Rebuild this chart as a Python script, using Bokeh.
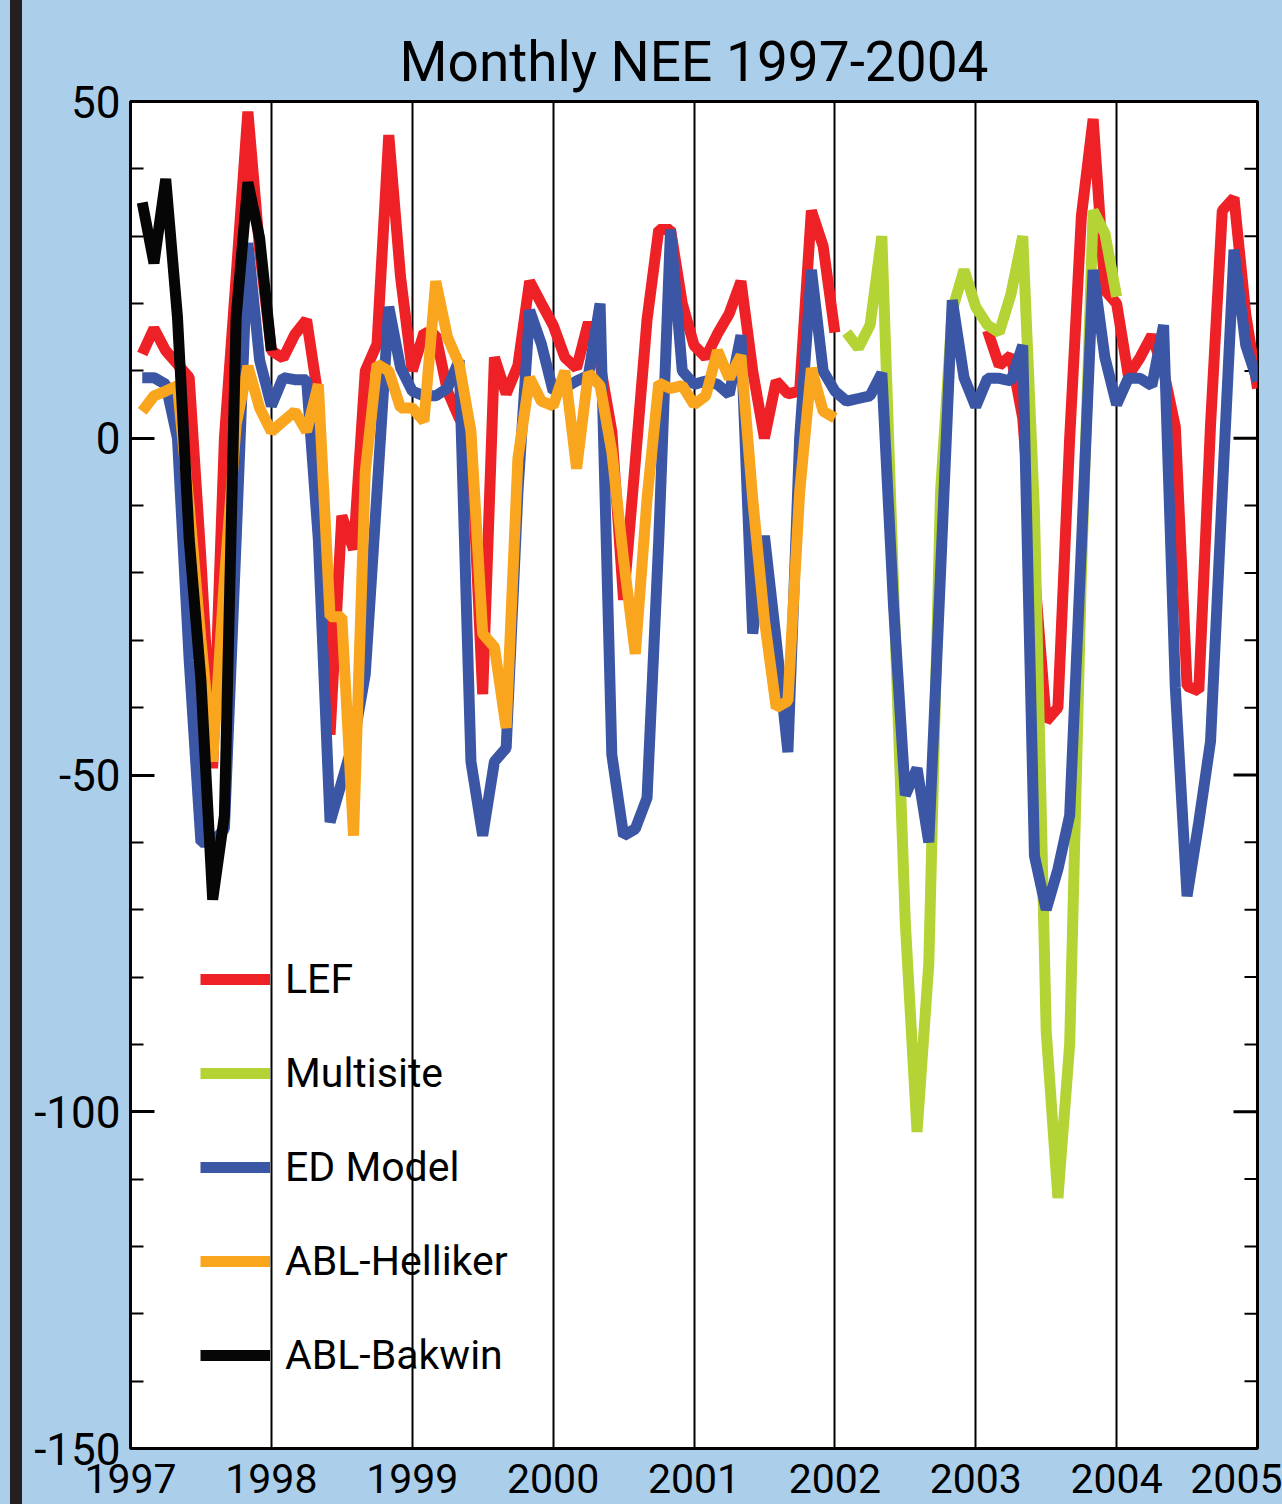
import numpy as np
from bokeh.plotting import figure
from bokeh.models import ColumnDataSource, FixedTicker, Legend, LegendItem, Range1d
from bokeh.embed import file_html
from bokeh.resources import INLINE

# ---------------- data (monthly NEE) ----------------
years = [1997, 1998, 1999, 2000, 2001, 2002, 2003, 2004]
months = list(range(1, 13))

lef_1997 = [12.5, 16.3, 13, 11, 9, -18, -49, 0, 24, 48.5, 28, 13]
lef_1998 = [11.9, 15.4, 17.6, 6, -44, -11.5, -16.5, 10, 14, 45, 24, 10]
lef_1999 = [15.7, 15.3, 7, 3, 0, -38, 12, 6.6, 10.8, 23.3, 20, 16.8]
lef_2000 = [12, 10.4, 17.2, 11, 1, -24, -3.5, 17.6, 31, 31, 20, 13.8]
lef_2001 = [12, 15.5, 18.5, 23.3, 10, 0, 8.5, 6.6, 7, 33.8, 28.5, 15.7]
lef_2002 = [None] * 12
lef_2003 = [16, 10.8, 12.3, 3, -20, -42, -40, 0, 33, 47.4, 22, 20]
lef_2004 = [9.3, 12, 15.3, 10, 1.7, -36.8, -37.5, 2, 33.8, 35.7, 18.4, 7.4]

ed_1997 = [9, 9, 8, 0, -33, -60, -60, -58, -15, 29, 11.6, 4.8]
ed_1998 = [9, 8.7, 8.7, -15, -57, -51, -45, -35, -8, 19.5, 10.5, 7]
ed_1999 = [6.3, 6.3, 7.4, 11.6, -48, -59, -48, -46, -8, 19, 14, 7]
ed_2000 = [7.5, 8.5, 9.3, 20, -47, -59, -58, -53.4, -15, 31, 10, 8]
ed_2001 = [8.5, 8, 6.5, 15.3, -29, -14.5, -30, -46.6, 0, 25, 10, 7]
ed_2002 = [5.5, 5.9, 6.3, 9.7, -25, -53, -49, -60, -20, 20.5, 9, 4.7]
ed_2003 = [8.9, 8.9, 8.5, 13.8, -62, -70, -64, -56, -16, 25, 12, 5]
ed_2004 = [8.9, 8.9, 7.8, 16.8, -37, -68, -57, -45, -8, 28, 13.8, 8.5]

multisite_years = [2002, 2003]
multisite_2002 = [15.7, 13.4, 16.8, 30, -22, -72, -103, -78, -8, 19, 25, 19.5]
multisite_2003 = [16.8, 15.7, 21.4, 30, -11, -88, -112.8, -90, -20, 33.8, 30.4, 21]

helliker_years = [1997, 1998, 1999, 2000, 2001]
helliker_1997 = [4, 6.3, 7, 7.8, -10, -30, -48, -21, 2, 10.7, 4.5, 1]
helliker_1998 = [2.5, 4, 1, 8, -26.5, -26.5, -59, -5, 11, 10, 4.5, 4.5]
helliker_1999 = [2.5, 23.3, 15, 11, 1, -29, -31, -43, -3, 9, 5.5, 4.8]
helliker_2000 = [10, -4.5, 9.7, 7.8, -2, -18, -32, -9, 8.2, 7.4, 7.8, 5]
helliker_2001 = [6.3, 13, 8.9, 12.3, -9, -27, -40, -39, -8, 10.4, 4, 3]

bakwin_years = [1997]
bakwin_1997 = [35, 26, 38.5, 18, -15, -36, -68.5, -56, 18, 38, 29.7, 13]

y_ticks = [-150, -100, -50, 0, 50]
y_minor_ticks = [-150, -140, -130, -120, -110, -100, -90, -80, -70, -60, -50, -40,
                 -30, -20, -10, 0, 10, 20, 30, 40, 50]
x_ticks = [1997, 1998, 1999, 2000, 2001, 2002, 2003, 2004, 2005]

series_names = ["LEF", "Multisite", "ED Model", "ABL-Helliker", "ABL-Bakwin"]
series_colors = ["#ee2126", "#b4d334", "#3b56a5", "#f9a51d", "#060606"]

# ---------------- helpers ----------------
def month_x(yrs):
    return [y + m / 12.0 for y in yrs for m in months]

def to_arr(*parts):
    out = []
    for part in parts:
        out.extend([np.nan if v is None else v for v in part])
    return np.array(out, dtype=float)

lef = to_arr(lef_1997, lef_1998, lef_1999, lef_2000, lef_2001, lef_2002, lef_2003, lef_2004)
ed = to_arr(ed_1997, ed_1998, ed_1999, ed_2000, ed_2001, ed_2002, ed_2003, ed_2004)
multisite = to_arr(multisite_2002, multisite_2003)
helliker = to_arr(helliker_1997, helliker_1998, helliker_1999, helliker_2000, helliker_2001)
bakwin = to_arr(bakwin_1997)

BG = "#abcfeb"
FONT = "Roboto"

W, H = 1282, 1504
BL, BR, BT, BB = 130, 25, 101, 56
FW, FH = W - BL - BR, H - BT - BB
X0, X1, Y0, Y1 = 1997, 2005, -150, 50

p = figure(width=W, height=H,
           x_range=Range1d(X0, X1), y_range=Range1d(Y0, Y1),
           output_backend="svg", toolbar_location=None,
           min_border_left=BL, min_border_right=BR, min_border_top=BT, min_border_bottom=BB,
           background_fill_color="white", border_fill_color=BG, border_fill_alpha=0)

p.title.text = "Monthly NEE 1997-2004"
p.title.align = "center"
p.title.text_font = FONT
p.title.text_font_size = "55px"
p.title.text_font_style = "normal"
p.title.text_color = "black"
p.title.standoff = 15

p.outline_line_color = "black"
p.outline_line_width = 3
p.outline_line_alpha = 1

# x axis
xa = p.xaxis[0]
xa.ticker = FixedTicker(ticks=x_ticks)
xa.axis_line_color = None
xa.major_tick_line_color = None
xa.minor_tick_line_color = None
xa.major_label_text_font = FONT
xa.major_label_text_font_size = "41px"
xa.major_label_text_color = "black"
xa.major_label_standoff = 9

# left y axis
ya = p.yaxis[0]
ya.ticker = FixedTicker(ticks=y_ticks, minor_ticks=y_minor_ticks)
ya.axis_line_color = None
ya.major_tick_in = 24
ya.major_tick_out = 0
ya.minor_tick_in = 13
ya.minor_tick_out = 0
ya.major_tick_line_width = 3
ya.minor_tick_line_width = 2
ya.major_tick_line_color = "black"
ya.minor_tick_line_color = "black"
ya.major_label_overrides = {t: str(t) for t in y_ticks}
ya.major_label_text_font = FONT
ya.major_label_text_font_size = "44px"
ya.major_label_text_color = "black"
ya.major_label_standoff = 10

# grid
p.xgrid.ticker = FixedTicker(ticks=x_ticks)
p.xgrid.grid_line_color = "black"
p.xgrid.grid_line_width = 2
p.ygrid.grid_line_color = None

# right-hand inward ticks (mirror of the left axis ticks)
px_x = (X1 - X0) / FW
minor_only = [t for t in y_minor_ticks if t not in y_ticks]
p.segment(x0=[X1 - 13 * px_x] * len(minor_only), x1=[X1] * len(minor_only),
          y0=minor_only, y1=minor_only, line_color="black", line_width=2)
p.segment(x0=[X1 - 24 * px_x] * len(y_ticks), x1=[X1] * len(y_ticks),
          y0=y_ticks, y1=y_ticks, line_color="black", line_width=3)

# ---------------- lines ----------------
LW = 11
src_lef = ColumnDataSource(dict(x=month_x(years), y=lef))
src_ms = ColumnDataSource(dict(x=month_x(multisite_years), y=multisite))
src_ed = ColumnDataSource(dict(x=month_x(years), y=ed))
src_hel = ColumnDataSource(dict(x=month_x(helliker_years), y=helliker))
src_bak = ColumnDataSource(dict(x=month_x(bakwin_years), y=bakwin))

r_lef = p.line("x", "y", source=src_lef, line_color=series_colors[0], line_width=LW)
r_ms = p.line("x", "y", source=src_ms, line_color=series_colors[1], line_width=LW)
r_ed = p.line("x", "y", source=src_ed, line_color=series_colors[2], line_width=LW)
r_hel = p.line("x", "y", source=src_hel, line_color=series_colors[3], line_width=LW)
r_bak = p.line("x", "y", source=src_bak, line_color=series_colors[4], line_width=LW)

legend = Legend(items=[LegendItem(label=n, renderers=[r]) for n, r in
                       zip(series_names, [r_lef, r_ms, r_ed, r_hel, r_bak])],
                location=(70, 69), orientation="vertical",
                glyph_width=70, glyph_height=40, label_height=40, spacing=46,
                padding=0, margin=0, label_standoff=15,
                background_fill_alpha=0, border_line_color=None,
                label_text_font=FONT, label_text_font_size="41px", label_text_color="black")
p.add_layout(legend)

template = """
{% block preamble %}
<style>
html { background: linear-gradient(to right, #abcfeb 0px, #abcfeb 10px, #231f20 10px, #231f20 22px, #abcfeb 22px, #abcfeb 100%); }
</style>
{% endblock %}
"""

open("out.html", "w").write(file_html(p, INLINE, title="Monthly NEE 1997-2004", template=template))
